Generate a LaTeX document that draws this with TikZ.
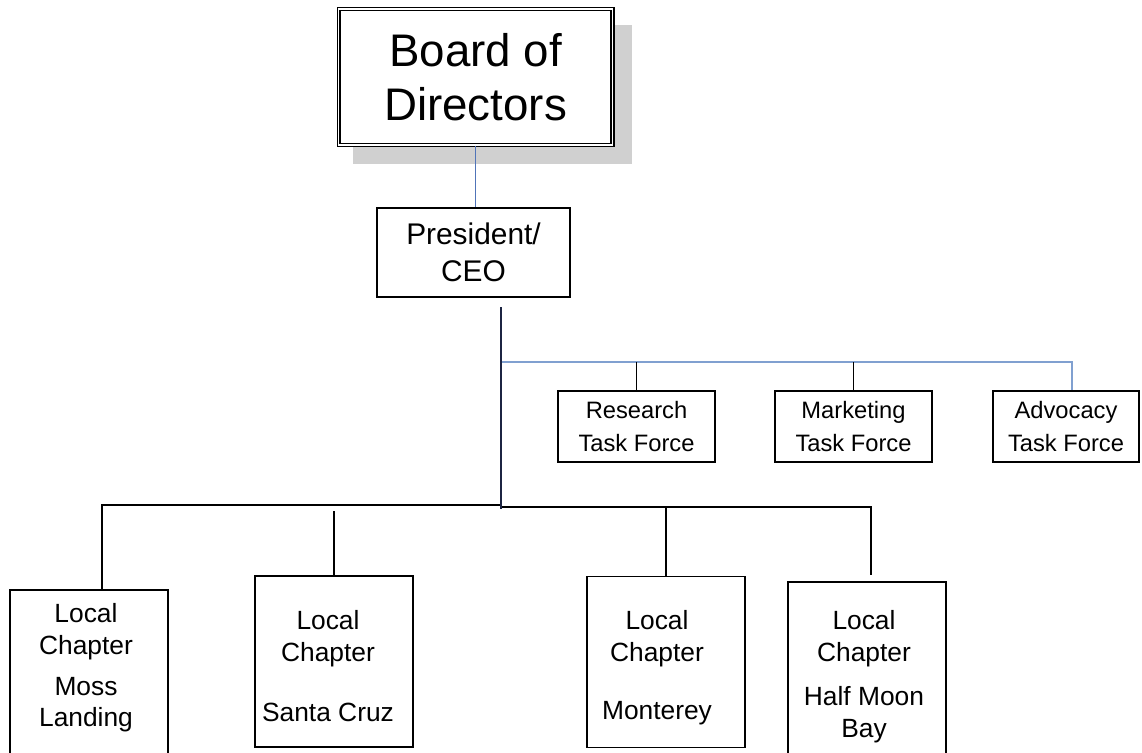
\documentclass[tikz,border=0pt]{standalone}
\usepackage{fontspec}
\setmainfont{Liberation Sans}
\usetikzlibrary{positioning}

\definecolor{shadowgray}{RGB}{208,208,208}
\definecolor{linkblue}{RGB}{80,116,184}
\definecolor{tfblue}{RGB}{128,160,208}
\definecolor{trunknavy}{RGB}{28,36,66}

\begin{document}
\begin{tikzpicture}[x=0.02cm, y=-0.02cm,
        box/.style={draw, line width=1.1pt, fill=white, inner sep=0pt, align=center},
        taskbox/.style={box, minimum height=1.42cm, font=\fontsize{13.5}{19}\selectfont},
        chapbox/.style={box, minimum width=3.16cm},
        chaptext/.style={anchor=north, inner sep=0pt, align=center, font=\fontsize{15}{18}\selectfont},
        busline/.style={line width=1.1pt},
        tieline/.style={line width=0.6pt}]
        \useasboundingbox (0,0) rectangle (1142,753);

        % board, with its shadow behind it
        \fill[shadowgray] (353,25) rectangle (632,164);
        \node[box, double, line width=0.6pt, double distance=1.1pt, minimum width=5.48cm, minimum height=2.72cm,
              font=\fontsize{26}{31}\selectfont] (board) at (475.5,77) {Board of\\Directors};

        \node[box, minimum width=3.86cm, minimum height=1.78cm, font=\fontsize{17}{21}\selectfont] (pres) at (473.5,252.5) {President/\\CEO};

        % task forces
        \node[taskbox, minimum width=3.14cm] (research) at (636.5,426.5) {Research\\Task Force};
        \node[taskbox, minimum width=3.14cm] (marketing) at (853.5,426.5) {Marketing\\Task Force};
        \node[taskbox, minimum width=2.92cm] (advocacy) at (1066,426.5) {Advocacy\\Task Force};

        % local chapters
        \node[chapbox, minimum height=3.6cm] (moss) at (89,680) {};
        \node[chapbox, minimum height=3.42cm] (santa) at (334,661.5) {};
        \node[chapbox, minimum height=3.42cm] (monterey) at (666,662) {};
        \node[chapbox, minimum height=3.76cm] (halfmoon) at (867,676) {};

        \node[chaptext] (mosstext) at (86,603) {Local\\Chapter\\[5.5pt]Moss\\Landing};
        \node[chaptext] (santatext) at (328,610) {Local\\Chapter\\[16.5pt]Santa Cruz};
        \node[chaptext] (montereytext) at (657,610) {Local\\Chapter\\[15.5pt]Monterey};
        \node[chaptext] (halfmoontext) at (864,610) {Local\\Chapter\\[7.5pt]Half Moon\\Bay};

        % connectors
        \coordinate (trunktop) at (501,307);
        \coordinate (tfbus) at (501,362);
        \coordinate (lbus) at (501,505);
        \coordinate (rbus) at (501,507);
        \coordinate (trunkend) at (501,509);
        \coordinate (halfmoontop) at (871,575);

        \draw[linkblue, tieline] (board.south) -- (board.south |- pres.north);
        \draw[tfblue, tieline] (tfbus) -| ([xshift=0.12cm]advocacy.north);
        \draw[tieline] (research.north) -- (research.north |- tfbus);
        \draw[tieline] (marketing.north) -- (marketing.north |- tfbus);

        \draw[busline] ([xshift=0.26cm]moss.north) |- (lbus);
        \draw[busline] (rbus) -| (halfmoontop);
        \draw[busline] (santa.north) -- ++(0,-64);
        \draw[busline] (monterey.north) -- (monterey.north |- rbus);
        \draw[busline, trunknavy] (trunktop) -- (trunkend);

    \end{tikzpicture}
\end{document}
